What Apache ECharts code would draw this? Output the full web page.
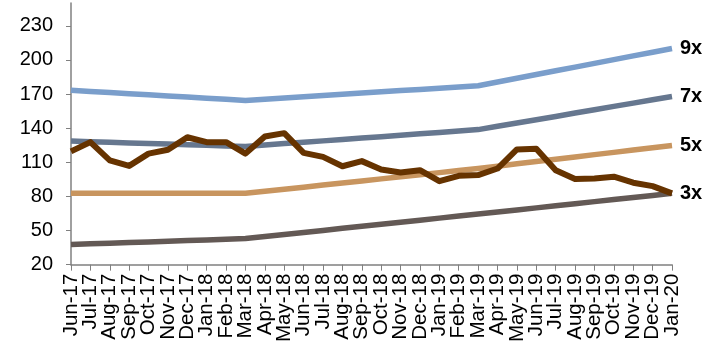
<!DOCTYPE html>
<html><head><meta charset="utf-8">
<script src="https://cdn.jsdelivr.net/npm/echarts@6/dist/echarts.min.js"></script>
<style>html,body{margin:0;padding:0;background:#fff}#c{width:720px;height:345px}</style>
</head><body><div id="c"></div>
<script>
const categories = ["Jun-17","Jul-17","Aug-17","Sep-17","Oct-17","Nov-17","Dec-17","Jan-18","Feb-18","Mar-18","Apr-18","May-18","Jun-18","Jul-18","Aug-18","Sep-18","Oct-18","Nov-18","Dec-18","Jan-19","Feb-19","Mar-19","Apr-19","May-19","Jun-19","Jul-19","Aug-19","Sep-19","Oct-19","Nov-19","Dec-19","Jan-20"];
const price = [119.6,127.7,111.7,106.8,117.6,121,132,127.7,127.7,117.6,132.6,135.6,118.2,114.7,106.5,111,103.6,101,103,93.4,98.1,98.7,104.5,121.3,121.9,103,95.2,95.8,97.3,92,89,82.7];
const x9 = [173.3,172.3,171.3,170.3,169.3,168.3,167.3,166.3,165.3,164.3,165.4,166.5,167.5,168.6,169.7,170.8,171.9,173,174,175.1,176.2,177.3,180.5,183.8,187.1,190.4,193.6,196.9,200.2,203.5,206.7,210];
const x7 = [128.6,128.1,127.6,127,126.5,126,125.5,125,124.4,123.9,125.2,126.4,127.6,128.8,130.1,131.3,132.5,133.8,135,136.2,137.4,138.7,141.6,144.5,147.4,150.3,153.3,156.2,159.1,162,164.9,167.8];
const x5 = [82.7,82.7,82.7,82.7,82.7,82.7,82.7,82.7,82.7,82.7,84.5,86.3,88.1,90,91.8,93.6,95.4,97.2,99.1,100.9,102.7,104.5,106.5,108.6,110.6,112.6,114.7,116.7,118.7,120.7,122.8,124.8];
const x3 = [37.7,38.3,38.9,39.4,40,40.6,41.2,41.7,42.3,42.9,44.7,46.5,48.3,50.1,51.9,53.7,55.5,57.3,59.1,60.9,62.7,64.5,66.3,68.1,69.9,71.8,73.6,75.4,77.2,79,80.8,82.7];
const yTicks = [20,50,80,110,140,170,200,230];

const FONT = '"Liberation Sans", Arial, sans-serif';
function line(name, data, color, width, label) {
  return {
    name, type: 'line', data, symbol: 'none', smooth: false,
    lineStyle: { color, width, cap: 'butt', join: 'round' },
    itemStyle: { color },
    endLabel: label ? { show: true, formatter: label, color: '#000', fontFamily: FONT, fontWeight: 'bold', fontSize: 20, distance: 8 } : { show: false },
    emphasis: { disabled: true }, animation: false
  };
}
const chart = echarts.init(document.getElementById('c'), null, { renderer: 'canvas' });
chart.setOption({
  animation: false,
  grid: { left: 71, right: 48, top: 3, bottom: 78, containLabel: false },
  xAxis: {
    type: 'category', data: categories, boundaryGap: false,
    axisLine: { lineStyle: { color: '#808080', width: 1.5 } },
    axisTick: { show: true, length: 6, interval: 0, lineStyle: { color: '#808080', width: 1 } },
    axisLabel: { interval: 0, rotate: 90, color: '#000', fontFamily: FONT, fontSize: 20.5, margin: 9 }
  },
  yAxis: {
    type: 'value', min: 20, max: 250, interval: 30,
    splitLine: { show: false },
    axisLine: { show: true, lineStyle: { color: '#808080', width: 1.5 } },
    axisTick: { show: true, length: 5, customValues: yTicks, lineStyle: { color: '#808080', width: 1 } },
    axisLabel: { customValues: yTicks, color: '#000', fontFamily: FONT, fontSize: 20, margin: 18 }
  },
  series: [
    line('9x', x9, '#7a9ecb', 5.5, '9x'),
    line('7x', x7, '#66778f', 5.5, '7x'),
    line('5x', x5, '#c8955f', 5.5, '5x'),
    line('3x', x3, '#635955', 5.5, '3x'),
    line('Price', price, '#663300', 6, null)
  ]
});
</script></body></html>
